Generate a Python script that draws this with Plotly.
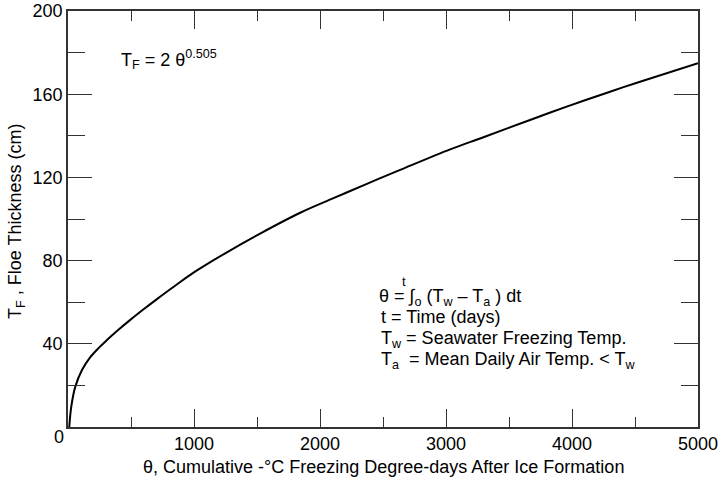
import plotly.graph_objects as go

# Floe thickness growth vs. cumulative freezing degree-days
theta_fdd = [10, 26, 58, 111, 177, 250, 309, 400, 494, 600, 706, 850, 996, 1261, 1525,
             1843, 2107, 2372, 2636, 3033, 3297, 3667, 3958, 4302, 4540, 5000]
thickness_cm = [0, 9.8, 19.4, 27.4, 33.6, 38.4, 41.8, 46.7, 51.5, 56.6, 61.5, 67.9, 74.2,
                84.0, 93.0, 103.0, 110.0, 116.9, 123.6, 133.5, 139.3, 147.6, 154.0,
                161.2, 166.0, 174.9]

x_ticks = [0, 1000, 2000, 3000, 4000, 5000]
x_ticktext = ["", "1000", "2000", "3000", "4000", "5000"]
y_ticks = [0, 40, 80, 120, 160, 200]
y_ticktext = ["", "40", "80", "120", "160", "200"]

FONT = "Liberation Sans, Arial, Helvetica, sans-serif"
AX = "#333333"

# plot-area geometry in pixels
W, H = 720, 487
L, R, T, B = 68, 698, 11, 427


def px(xp):
    return (xp - L) / (R - L)


def py(yp):
    return (B - yp) / (B - T)


fig = go.Figure()
fig.add_trace(go.Scatter(
    x=theta_fdd, y=thickness_cm, mode="lines",
    line=dict(color="black", width=2, shape="spline", smoothing=1.0),
    showlegend=False, hoverinfo="skip",
))

axis_common = dict(
    showline=True, linecolor=AX, linewidth=1.5, mirror="ticks",
    ticks="inside", tickcolor=AX, tickwidth=1.3,
    showgrid=False, zeroline=False, automargin=False,
    tickfont=dict(family=FONT, size=18, color="black"),
)

fig.update_xaxes(
    range=[0, 5000], tickmode="array", tickvals=x_ticks, ticktext=x_ticktext,
    ticklen=18,
    minor=dict(tickmode="linear", tick0=0, dtick=500, ticks="inside",
               ticklen=10, tickcolor=AX, tickwidth=1.3),
    **axis_common,
)
fig.update_yaxes(
    range=[0, 200], tickmode="array", tickvals=y_ticks, ticktext=y_ticktext,
    ticklen=24,
    minor=dict(tickmode="linear", tick0=0, dtick=20, ticks="inside",
               ticklen=17, tickcolor=AX, tickwidth=1.3),
    **axis_common,
)

annotations = []


def note(text, xp, yp, size=18, xanchor="left", yanchor="middle", angle=0):
    annotations.append(dict(
        text=text, x=px(xp), y=py(yp), xref="paper", yref="paper",
        xanchor=xanchor, yanchor=yanchor, showarrow=False, textangle=angle,
        font=dict(family=FONT, size=size, color="black"),
    ))


# shared origin label
note("0", 59, 437, xanchor="center")

# axis titles
note("θ, Cumulative -°C Freezing Degree-days After Ice Formation", 383, 467,
     xanchor="center")
note("T<sub>F</sub> , Floe Thickness (cm)", 16, 222, xanchor="center", angle=-90)

# growth law
note("T<sub>F</sub> = 2 θ<sup>0.505</sup>", 119, 59)

# definitions block
note("θ = ∫<sub>o</sub> (T<sub>w</sub> – T<sub>a</sub> ) dt", 377, 297)
note("t", 400, 281, size=13)
note("t = Time (days)", 379, 317)
note("T<sub>w</sub> = Seawater Freezing Temp.", 379, 339)
note("T<sub>a</sub>  = Mean Daily Air Temp. &lt; T<sub>w</sub>", 379, 360)

fig.update_layout(
    width=W, height=H,
    margin=dict(l=L, r=W - R, t=T, b=H - B),
    paper_bgcolor="white", plot_bgcolor="white",
    annotations=annotations,
    font=dict(family=FONT, size=18, color="black"),
)

fig.write_html("out.html")
